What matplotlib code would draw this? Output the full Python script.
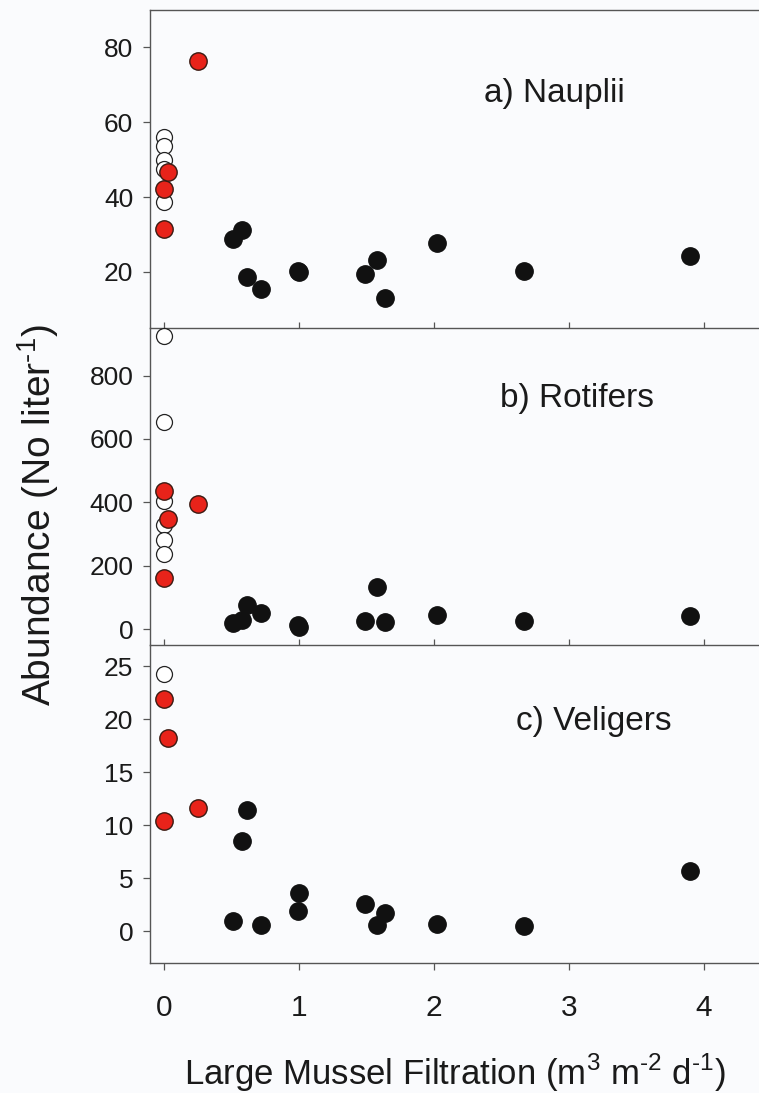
import numpy as np
import matplotlib.pyplot as plt

#----------
# Data
# stations with large mussels (black)
mussel_x = [0.51, 0.575, 0.615, 0.72, 0.995, 1.0, 1.49, 1.58, 1.64, 2.02, 2.67, 3.90]
nauplii_black = [28.7, 31.2, 18.6, 15.4, 20.3, 20.0, 19.5, 23.2, 13.0, 27.6, 20.3, 24.3]
rotifers_black = [19, 29, 75, 50, 12, 8, 26, 133, 21, 45, 27, 42]
veligers_black = [1.0, 8.5, 11.4, 0.6, 1.9, 3.6, 2.6, 0.55, 1.75, 0.7, 0.5, 5.7]

# red stations
red_x = [0.0, 0.03, 0.254, 0.0]
nauplii_red = [42.1, 46.7, 76.5, 31.5]
rotifers_red = [437, 348, 395, 160]
veligers_red = [21.9, 18.2, 11.65, 10.4]

# open circles (no mussels)
nauplii_open = [56.1, 53.7, 49.9, 47.6, 38.6]
rotifers_open = [925, 653, 403, 330, 282, 238]
veligers_open = [24.3]

panel_labels = ["a) Nauplii", "b) Rotifers", "c) Veligers"]
x_ticks = [0, 1, 2, 3, 4]
y_ticks = [[20, 40, 60, 80], [0, 200, 400, 600, 800], [0, 5, 10, 15, 20, 25]]
y_limits = [(5, 90), (-50, 950), (-3, 27)]
#----------

plt.rcParams['font.family'] = ['Liberation Sans', 'DejaVu Sans']
plt.rcParams['mathtext.fontset'] = 'custom'
plt.rcParams['mathtext.rm'] = 'Liberation Sans'

bg = '#fafbfd'
spine_col = '#555555'

fig = plt.figure(figsize=(7.59, 10.93), dpi=100, facecolor=bg)

W, H = 759.0, 1093.0
left = 150 / W
tops = [10, 328, 645]
bottoms = [328, 645, 963]

black_sets = [nauplii_black, rotifers_black, veligers_black]
red_sets = [nauplii_red, rotifers_red, veligers_red]
open_sets = [nauplii_open, rotifers_open, veligers_open]
label_pos = [(0.548, 0.711), (0.575, 0.752), (0.601, 0.733)]

axes = []
for i in range(3):
    b = 1 - bottoms[i] / H
    h = (bottoms[i] - tops[i]) / H
    ax = fig.add_axes([left, b, 1 - left, h])
    ax.patch.set_alpha(0)
    axes.append(ax)

    ax.plot(np.zeros(len(open_sets[i])), open_sets[i], 'o', ms=11.5, mfc='white',
            mec='#222222', mew=0.9, clip_on=False, zorder=3)
    ax.plot(red_x, red_sets[i], 'o', ms=12.5, mfc='#e8231a', mec='#3a1a12',
            mew=1.0, clip_on=False, zorder=4)
    ax.plot(mussel_x, black_sets[i], 'o', ms=12.5, mfc='#111111', mec='#111111',
            mew=1.0, clip_on=False, zorder=5)

    ax.set_xlim(-0.104, 4.41)
    ax.set_ylim(*y_limits[i])
    ax.set_xticks(x_ticks)
    ax.set_yticks(y_ticks[i])

    ax.spines['right'].set_visible(False)
    if i > 0:
        ax.spines['top'].set_visible(False)
    for s in ['left', 'bottom', 'top']:
        ax.spines[s].set_color(spine_col)
        ax.spines[s].set_linewidth(1.0)

    ax.tick_params(axis='y', direction='out', length=5, width=0.9, color=spine_col,
                   pad=7, labelsize=19, labelcolor='#1a1a1a')
    if i < 2:
        ax.tick_params(axis='x', direction='in', length=4, width=0.9, color=spine_col,
                       labelbottom=False)
    else:
        ax.tick_params(axis='x', direction='out', length=5, width=0.9, color=spine_col,
                       pad=17, labelsize=21.5, labelcolor='#1a1a1a')

    ax.text(label_pos[i][0], label_pos[i][1], panel_labels[i], transform=ax.transAxes,
            ha='left', va='baseline', fontsize=24, color='#1a1a1a')

fig.text(455 / W, 1 - 1085 / H, r'Large Mussel Filtration (m$^{3}$ m$^{\text{-2}}$ d$^{\text{-1}}$)',
         ha='center', va='baseline', fontsize=25, color='#1a1a1a')
fig.text(38 / W, 1 - 515 / H, r'Abundance (No liter$^{\text{-1}}$)', rotation=90,
         ha='center', va='center', fontsize=28, color='#1a1a1a')

fig.savefig('out.png', dpi=100, facecolor=bg)
